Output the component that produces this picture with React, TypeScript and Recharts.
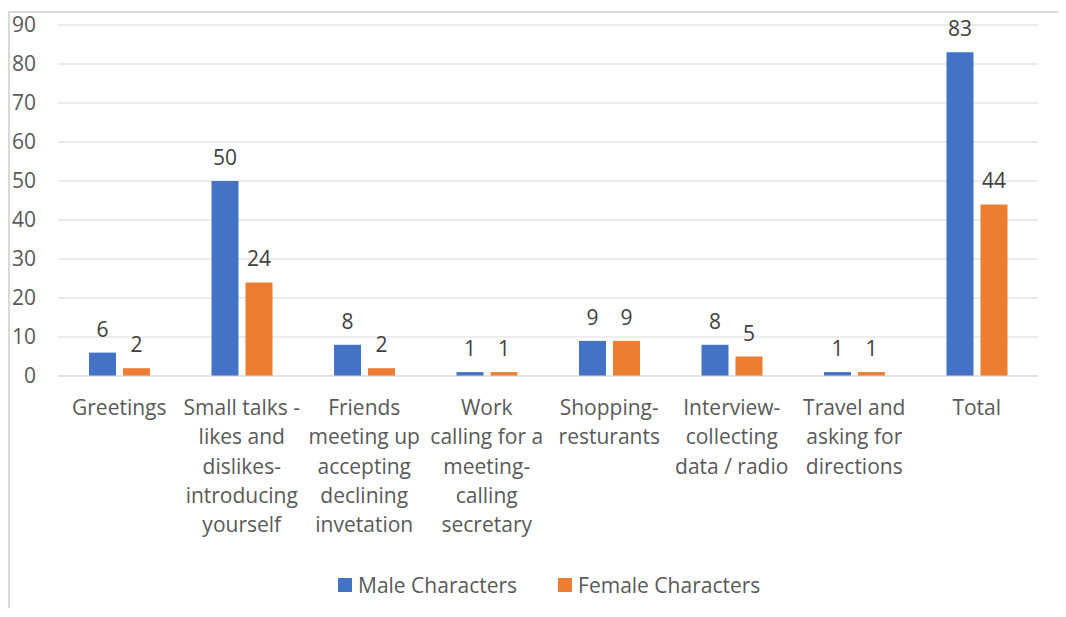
import React from 'react';
import { BarChart, Bar, XAxis, YAxis, CartesianGrid, Legend, LabelList } from 'recharts';

const categories = [
  'Greetings',
  'Small talks -\nlikes and\ndislikes-\nintroducing\nyourself',
  'Friends\nmeeting up\naccepting\ndeclining\ninvetation',
  'Work\ncalling for a\nmeeting-\ncalling\nsecretary',
  'Shopping-\nresturants',
  'Interview-\ncollecting\ndata / radio',
  'Travel and\nasking for\ndirections',
  'Total',
];
const maleValues = [6, 50, 8, 1, 9, 8, 1, 83];
const femaleValues = [2, 24, 2, 1, 9, 5, 1, 44];
const yTicks = [0, 10, 20, 30, 40, 50, 60, 70, 80, 90];
const seriesOrder = ['male', 'female'];

const data = categories.map((name, i) => ({ name, male: maleValues[i], female: femaleValues[i] }));

const FONT = '"Open Sans", sans-serif';
const TEXT = '#595959';
const FS = 21;

const CategoryTick = (props: any) => {
  const { x, y, payload } = props;
  const lines = String(payload.value).split('\n');
  return (
    <text x={x} y={y} textAnchor="middle" fill={TEXT} fontSize={FS} fontFamily={FONT}>
      {lines.map((line, i) => (
        <tspan key={i} x={x} y={y + 31 + i * 29.3}>{line}</tspan>
      ))}
    </text>
  );
};

const LegendContent = (props: any) => {
  const items = [...(props.payload || [])].sort(
    (a: any, b: any) => seriesOrder.indexOf(a.dataKey) - seriesOrder.indexOf(b.dataKey)
  );
  return (
    <div style={{ display: 'flex', alignItems: 'center', fontFamily: FONT, fontSize: FS, color: TEXT, lineHeight: '28px' }}>
      {items.map((p: any, i: number) => (
        <div key={i} style={{ display: 'flex', alignItems: 'center', marginRight: i === 0 ? 41 : 0 }}>
          <span style={{ width: 14, height: 14, background: p.color, display: 'inline-block', marginRight: 6 }} />
          <span>{p.value}</span>
        </div>
      ))}
    </div>
  );
};

export default function App() {
  return (
    <div style={{ position: 'relative', width: 1050, height: 600 }}>
      <div style={{ position: 'absolute', left: 0, top: 3, width: 1058, height: 606, borderTop: '2px solid #d9d9d9', borderLeft: '2px solid #d9d9d9', boxSizing: 'border-box' }} />
      <div style={{ position: 'absolute', left: 0, top: 0 }}>
        <BarChart width={1050} height={600} data={data} margin={{ top: 17, right: 20, left: 0, bottom: 24 }} barGap={7} barSize={27}>
          <CartesianGrid vertical={false} stroke="#d9d9d9" />
          <XAxis dataKey="name" axisLine={{ stroke: '#d9d9d9' }} tickLine={false} tick={<CategoryTick />} interval={0} height={180} />
          <YAxis domain={[0, 90]} ticks={yTicks} interval={0} axisLine={false} tickLine={false} tickSize={0} tickMargin={22} width={50}
            tick={{ fill: TEXT, fontSize: FS, fontFamily: FONT }} />
          <Legend content={<LegendContent />} wrapperStyle={{ position: 'absolute', left: 330, top: 563, width: 460, bottom: 'auto' }} />
          <Bar dataKey="male" name="Male Characters" fill="#4472C4" isAnimationActive={false}>
            <LabelList dataKey="male" position="top" offset={16} fill="#404040" fontSize={FS} fontFamily={FONT} />
          </Bar>
          <Bar dataKey="female" name="Female Characters" fill="#ED7D31" isAnimationActive={false}>
            <LabelList dataKey="female" position="top" offset={16} fill="#404040" fontSize={FS} fontFamily={FONT} />
          </Bar>
        </BarChart>
      </div>
    </div>
  );
}
